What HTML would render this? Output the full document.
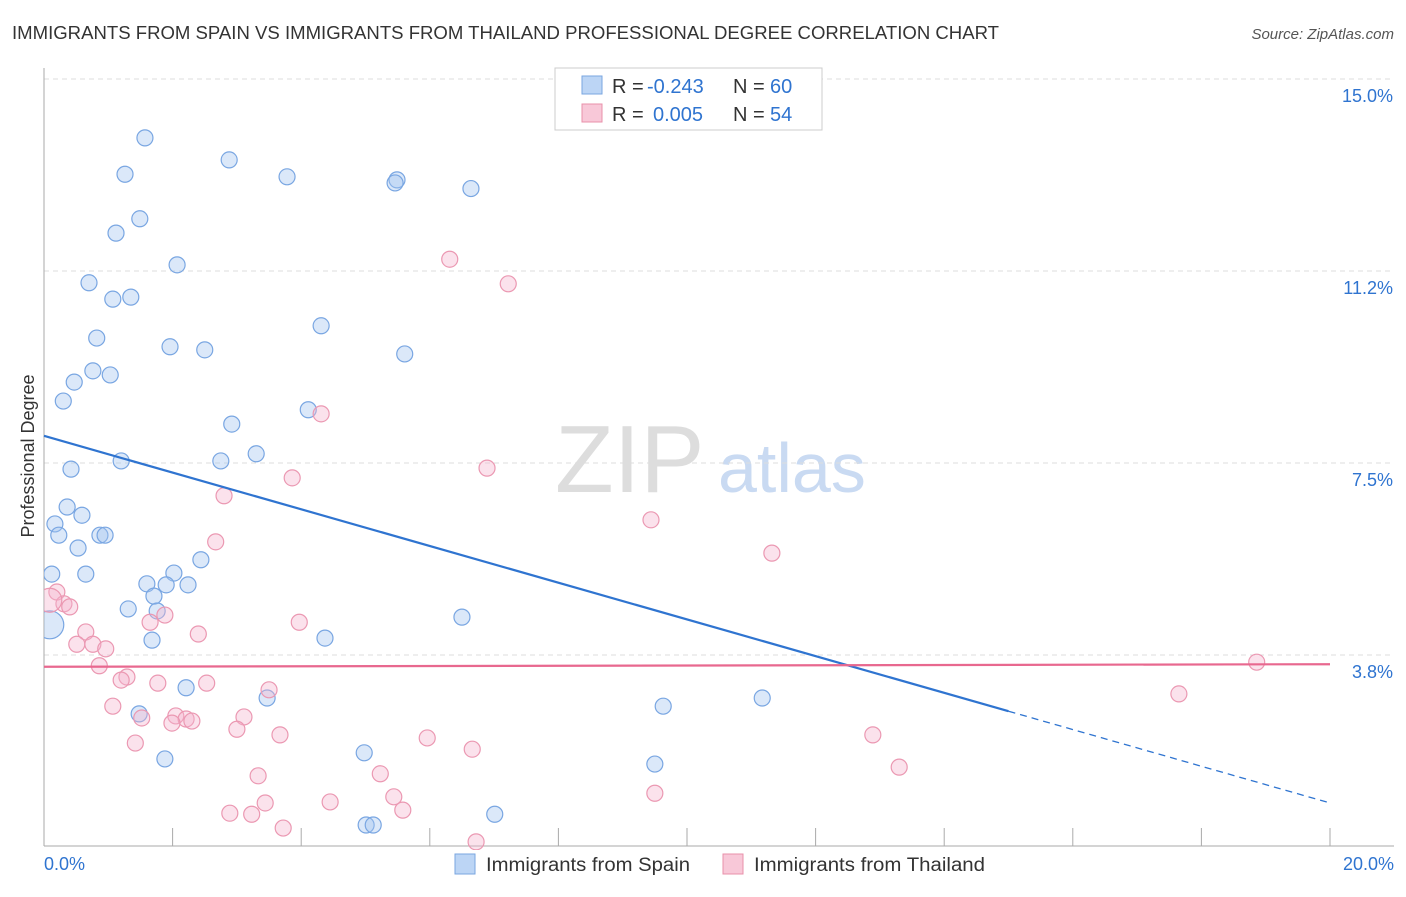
<!DOCTYPE html>
<html><head><meta charset="utf-8"><style>
body{margin:0;background:#fff;font-family:"Liberation Sans",sans-serif;}
svg text{font-family:"Liberation Sans",sans-serif;}
</style></head><body>
<svg id="c" width="1406" height="892">
<text x="12" y="39" font-size="18" fill="#333" textLength="987" lengthAdjust="spacingAndGlyphs">IMMIGRANTS FROM SPAIN VS IMMIGRANTS FROM THAILAND PROFESSIONAL DEGREE CORRELATION CHART</text>
<text x="1394" y="39" font-size="15" fill="#555" font-style="italic" text-anchor="end">Source: ZipAtlas.com</text>
<text x="34" y="456" font-size="18" fill="#333" text-anchor="middle" transform="rotate(-90 34 456)">Professional Degree</text>
<text x="555" y="492" font-size="96" fill="#ddd" font-family="Liberation Serif">ZIP</text>
<text x="718" y="492" font-size="70" fill="#c9daf2">atlas</text>
<g id="grid"></g><g id="pts"></g><g id="lines"></g>
<g>
<rect x="555" y="68" width="267" height="62" fill="#fff" stroke="#ccc"/>
<rect x="582" y="76" width="20" height="18" fill="#bcd5f5" stroke="#7aa6e0"/>
<rect x="582" y="104" width="20" height="18" fill="#f8c8d8" stroke="#e890aa"/>
<text x="612" y="93" font-size="20" fill="#333">R =</text>
<text x="647" y="93" font-size="20" fill="#2f74d0">-0.243</text>
<text x="733" y="93" font-size="20" fill="#333">N =</text>
<text x="770" y="93" font-size="20" fill="#2f74d0">60</text>
<text x="612" y="121" font-size="20" fill="#333">R =</text>
<text x="653" y="121" font-size="20" fill="#2f74d0">0.005</text>
<text x="733" y="121" font-size="20" fill="#333">N =</text>
<text x="770" y="121" font-size="20" fill="#2f74d0">54</text>
</g>
<g>
<rect x="455" y="854" width="20" height="20" fill="#bcd5f5" stroke="#7aa6e0"/>
<text x="486" y="871" font-size="19" fill="#333" textLength="204" lengthAdjust="spacingAndGlyphs">Immigrants from Spain</text>
<rect x="723" y="854" width="20" height="20" fill="#f8c8d8" stroke="#e890aa"/>
<text x="754" y="871" font-size="19" fill="#333" textLength="231" lengthAdjust="spacingAndGlyphs">Immigrants from Thailand</text>
</g>
<text x="44" y="870" font-size="18" fill="#2f74d0">0.0%</text>
<text x="1394" y="870" font-size="18" fill="#2f74d0" text-anchor="end">20.0%</text>
</svg>
<script>
const yTicks=[3.75,7.5,11.25,15];
const yTickLabels=["3.8%","7.5%","11.2%","15.0%"];
const xTicks=[0,2,4,6,8,10,12,14,16,18,20];
const spainX=[1.57,1.26,2.88,3.78,5.49,5.46,6.64,1.12,1.49,2.07,0.70,1.07,1.35,4.31,0.82,1.96,2.50,5.61,0.76,1.03,0.47,0.30,4.11,2.92,1.20,2.75,3.30,0.42,0.36,0.59,0.17,0.23,0.87,0.95,0.53,2.44,0.65,0.12,2.02,1.60,1.90,2.24,1.71,1.31,1.76,6.50,4.37,1.68,2.21,3.47,11.17,9.63,1.48,4.98,1.88,9.50,7.01,5.01,5.12,0.09];
const spainY=[13.85,13.14,13.42,13.09,13.03,12.97,12.86,11.99,12.27,11.37,11.02,10.70,10.74,10.18,9.94,9.77,9.71,9.63,9.30,9.22,9.08,8.71,8.54,8.26,7.54,7.54,7.68,7.38,6.64,6.48,6.31,6.09,6.09,6.09,5.84,5.61,5.33,5.33,5.35,5.14,5.12,5.12,4.90,4.65,4.61,4.49,4.08,4.04,3.11,2.91,2.91,2.75,2.60,1.84,1.72,1.62,0.64,0.43,0.43,4.34];
const thaiX=[6.31,7.22,4.31,6.89,3.86,2.80,9.44,11.32,2.67,0.20,0.31,0.40,1.88,3.97,1.65,0.65,2.40,0.51,0.76,0.96,18.86,0.86,1.29,1.20,2.53,1.77,3.50,17.65,1.07,1.52,2.05,2.21,2.30,1.99,3.11,3.00,3.67,12.89,5.96,6.66,1.42,13.30,3.33,5.23,9.50,5.44,4.45,3.44,5.58,2.89,3.23,3.72,6.72,0.09];
const thaiY=[11.48,11.00,8.46,7.40,7.21,6.86,6.39,5.74,5.96,4.98,4.75,4.69,4.53,4.39,4.39,4.20,4.16,3.96,3.96,3.87,3.61,3.54,3.32,3.26,3.20,3.20,3.07,2.99,2.75,2.52,2.56,2.50,2.46,2.42,2.54,2.30,2.19,2.19,2.13,1.91,2.03,1.56,1.39,1.43,1.05,0.98,0.88,0.86,0.72,0.66,0.64,0.37,0.10,4.82];
const spainTrend=[8.03,0.86];
const thaiTrend=[3.52,3.57];
const X=v=>44+v*64.3, Y=v=>847-v*51.2;
const NS="http://www.w3.org/2000/svg";
function mk(p,t,a){const e=document.createElementNS(NS,t);for(const k in a)e.setAttribute(k,a[k]);p.appendChild(e);return e;}
const svg=document.getElementById('c');
const defs=mk(svg,'defs',{});const cp=mk(defs,'clipPath',{id:'clip'});mk(cp,'rect',{x:44,y:60,width:1360,height:790});
const grid=document.getElementById('grid');
yTicks.forEach((t,i)=>{
 const l=mk(grid,'line',{x1:44,x2:1394,y1:Y(t),y2:Y(t),stroke:'#ddd','stroke-dasharray':'5,4'});
 
 
 const tx=mk(grid,'text',{x:1393,y:Y(t)+23,'font-size':18,fill:'#2f74d0','text-anchor':'end'});tx.textContent=yTickLabels[i];
 
 
});
mk(grid,'line',{x1:44,x2:1394,y1:79,y2:79,stroke:'#ddd','stroke-dasharray':'5,4'});
mk(grid,'line',{x1:44,x2:44,y1:68,y2:846,stroke:'#aaa'});
mk(grid,'line',{x1:44,x2:1394,y1:846,y2:846,stroke:'#aaa'});
xTicks.forEach(t=>{const l=mk(grid,'line',{x1:X(t),x2:X(t),y1:828,y2:846,stroke:'#aaa'});
 
 });
const pts=document.getElementById('pts');pts.setAttribute('clip-path','url(#clip)');
spainX.forEach((x,i)=>{const r=i==spainX.length-1?14:8;
 const c=mk(pts,'circle',{cx:X(x),cy:Y(spainY[i]),r:r,fill:'rgba(160,195,240,0.38)',stroke:'#79a6e2','stroke-width':1.2});
 
 });
thaiX.forEach((x,i)=>{const r=i==thaiX.length-1?12:8;
 const c=mk(pts,'circle',{cx:X(x),cy:Y(thaiY[i]),r:r,fill:'rgba(244,180,204,0.38)',stroke:'#eb98b2','stroke-width':1.2});
 
 });
const ln=document.getElementById('lines');
const sy=x=>spainTrend[0]+(spainTrend[1]-spainTrend[0])*x/20;
let a=mk(ln,'line',{x1:X(0),y1:Y(sy(0)),x2:X(15),y2:Y(sy(15)),stroke:'#2f74d0','stroke-width':2.2});


a=mk(ln,'line',{x1:X(15),y1:Y(sy(15)),x2:X(20),y2:Y(sy(20)),stroke:'#2f74d0','stroke-width':1.3,'stroke-dasharray':'7,5'});


a=mk(ln,'line',{x1:X(0),y1:Y(thaiTrend[0]),x2:X(20),y2:Y(thaiTrend[1]),stroke:'#e8688f','stroke-width':2.2});


</script>
</body></html>
